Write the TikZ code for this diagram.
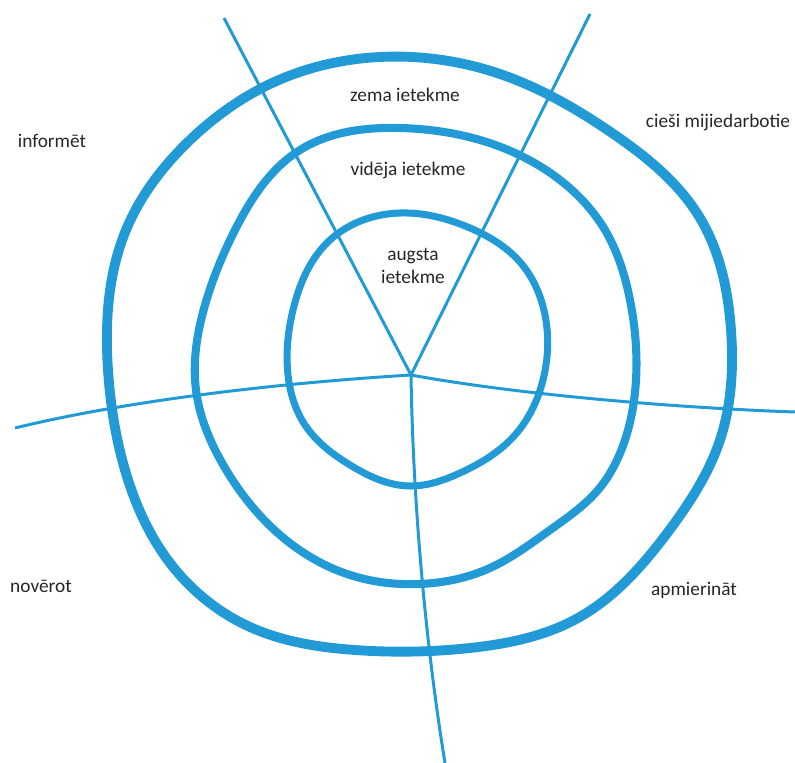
\documentclass[tikz,border=0pt]{standalone}
\usepackage{fontspec}
\setmainfont{Carlito}
\usetikzlibrary{positioning,hobby}
\definecolor{ringblue}{RGB}{34,154,214}

\begin{document}
\begin{tikzpicture}
[x=0.02cm,y=-0.02cm,
ring/.style={draw=ringblue,line join=round},
spoke/.style={draw=ringblue,line width=1.7pt},
lbl/.style={font=\fontsize{11}{13.5}\selectfont,text=black!85,inner sep=0pt,align=center}]
\useasboundingbox (0,0) rectangle (795,763);
%%
% spokes
%%
\coordinate (c) at (411,375);
\coordinate (ul) at (224,18);
\coordinate (ur) at (590,14);
\coordinate (le) at (15,428);
\coordinate (ri) at (795,412);
\coordinate (bo) at (445,763);
\draw[spoke] (c) -- (ul);
\draw[spoke] (c) -- (ur);
\draw[spoke] (c) .. controls (280,383) and (130,400) .. (le);
\draw[spoke] (c) .. controls (520,395) and (680,408) .. (ri);
\draw[spoke] (c) .. controls (413,500) and (425,640) .. (bo);
%%
% rings
%%
\draw[ring,line width=5.6pt] plot[closed hobby] coordinates {
(380,57) (500,74) (612,133) (700,218) (731,330) (720,440) (668,532)
(578,618) (470,648) (355,650) (250,627) (170,563) (125,470) (108,370)
(126,230) (190,140) (270,84)};
\draw[ring,line width=4.6pt] plot[closed hobby] coordinates {
(400,128) (480,140) (560,180) (605,230) (630,300) (636,380) (625,440)
(598,490) (550,530) (490,568) (420,584) (350,575) (280,535) (225,468)
(196,390) (205,305) (235,230) (300,150)};
\draw[ring,line width=4pt] plot[closed hobby] coordinates {
(400,213) (470,228) (520,262) (545,315) (543,380) (515,435) (460,473)
(410,486) (350,465) (305,425) (288,375) (293,310) (330,240)};
%%
% labels
%%
\node[lbl] (zema) at (405,95) {zema ietekme};
\node[lbl] (videja) at (408,170) {vidēja ietekme};
\node[lbl] (augsta) at (413,266) {augsta\\ietekme};
\node[lbl] (informet) at (52,141) {informēt};
\node[lbl] (ciesi) at (718,122) {cieši mijiedarbotie};
\node[lbl] (noverot) at (41,586) {novērot};
\node[lbl] (apmierinat) at (694,590) {apmierināt};
\end{tikzpicture}
\end{document}
